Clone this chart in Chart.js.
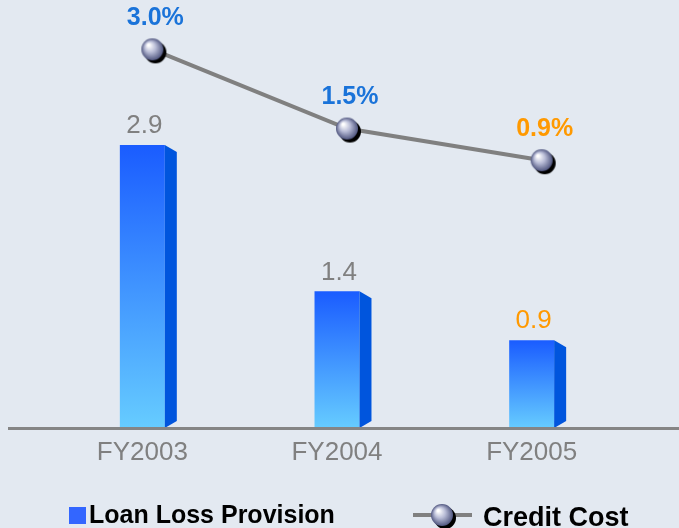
<!DOCTYPE html>
<html>
<head>
<meta charset="utf-8">
<script src="https://cdn.jsdelivr.net/npm/chart.js@4/dist/chart.umd.min.js"></script>
<style>
  html, body { margin: 0; padding: 0; background: #e3e9f1; }
  canvas { display: block; }
</style>
</head>
<body>
<canvas id="chart" width="679" height="528"></canvas>
<script>
// Chart data
const years = ['FY2003', 'FY2004', 'FY2005'];
const loanLossProvision = [2.9, 1.4, 0.9];
const creditCost = [3.0, 1.5, 0.9];
const creditCostLabels = ['3.0%', '1.5%', '0.9%'];

// label colours (last year highlighted in orange)
const barLabelColors = ['#808080', '#808080', '#ff9900'];
const lineLabelColors = ['#1a73d9', '#1a73d9', '#ff9900'];

const FONT = '"Liberation Sans", Arial, sans-serif';
const LINE_SHIFT = 10;   // line sits a little right of the bar centres
const SIDE = 12;         // depth of the 3d side face

// shaded ball used as point marker
function makeSphere(r) {
  const c = document.createElement('canvas');
  const s = (r + 5) * 2;
  c.width = s; c.height = s;
  const g = c.getContext('2d');
  const cx = s / 2, cy = s / 2;
  g.fillStyle = '#000';
  g.beginPath(); g.arc(cx + 3, cy + 3, r, 0, Math.PI * 2); g.fill();
  const grad = g.createRadialGradient(cx - r * 0.35, cy - r * 0.4, 1, cx, cy, r);
  grad.addColorStop(0, '#ffffff');
  grad.addColorStop(0.45, '#b8bcd6');
  grad.addColorStop(1, '#50567f');
  g.fillStyle = grad;
  g.beginPath(); g.arc(cx, cy, r, 0, Math.PI * 2); g.fill();
  return c;
}
const sphere = makeSphere(11);

function barGradient(context) {
  const chart = context.chart;
  const v = context.raw;
  if (!chart.chartArea || v === undefined) return '#3a7cff';
  const y = chart.scales.y;
  const top = y.getPixelForValue(v), base = y.getPixelForValue(0);
  const g = chart.ctx.createLinearGradient(0, top, 0, base);
  g.addColorStop(0, '#1a5cff');
  g.addColorStop(1, '#66ccff');
  return g;
}

const extras = {
  id: 'extras',
  beforeDatasetDraw(chart, args) {
    if (args.index === 1) {
      chart.ctx.save();
      chart.ctx.translate(LINE_SHIFT, 0);
    }
  },
  afterDatasetDraw(chart, args) {
    if (args.index === 1) chart.ctx.restore();
  },
  afterDatasetsDraw(chart) {
    const ctx = chart.ctx;
    const bars = chart.getDatasetMeta(0).data;
    const pts = chart.getDatasetMeta(1).data;
    ctx.save();
    // side faces
    bars.forEach(b => {
      const r = b.x + b.width / 2;
      ctx.fillStyle = '#0055dd';
      ctx.beginPath();
      ctx.moveTo(r, b.y);
      ctx.lineTo(r + SIDE, b.y + 7);
      ctx.lineTo(r + SIDE, b.base - 7);
      ctx.lineTo(r, b.base);
      ctx.closePath();
      ctx.fill();
    });
    // axis line
    const ay = chart.scales.y.getPixelForValue(0);
    ctx.strokeStyle = '#858585';
    ctx.lineWidth = 3;
    ctx.beginPath();
    ctx.moveTo(8, ay + 0.5);
    ctx.lineTo(chart.width, ay + 0.5);
    ctx.stroke();
    // value labels
    ctx.textAlign = 'center';
    ctx.textBaseline = 'middle';
    ctx.font = '26px ' + FONT;
    bars.forEach((b, i) => {
      ctx.fillStyle = barLabelColors[i];
      ctx.fillText(loanLossProvision[i].toFixed(1), b.x + 2, b.y - 19);
    });
    ctx.font = 'bold 25px ' + FONT;
    pts.forEach((p, i) => {
      ctx.fillStyle = lineLabelColors[i];
      ctx.fillText(creditCostLabels[i], p.x + LINE_SHIFT + 3, p.y - 31);
    });
    ctx.restore();
  },
  afterDraw(chart) {
    const ctx = chart.ctx;
    const ds = chart.data.datasets;
    ctx.save();
    ctx.fillStyle = '#3366ff';
    ctx.fillRect(69, 507, 17, 17);
    ctx.fillStyle = '#000';
    ctx.font = 'bold 25px ' + FONT;
    ctx.textAlign = 'left';
    ctx.textBaseline = 'alphabetic';
    ctx.fillText(ds[0].label, 89, 523);
    ctx.strokeStyle = '#808080';
    ctx.lineWidth = 4;
    ctx.beginPath();
    ctx.moveTo(413, 515);
    ctx.lineTo(472, 515);
    ctx.stroke();
    ctx.drawImage(sphere, 442 - sphere.width / 2, 515 - sphere.height / 2);
    ctx.font = 'bold 27px ' + FONT;
    ctx.fillText(ds[1].label, 483, 526);
    ctx.restore();
  }
};

new Chart(document.getElementById('chart').getContext('2d'), {
  data: {
    labels: years,
    datasets: [{
      type: 'bar',
      label: 'Loan Loss Provision',
      data: loanLossProvision,
      yAxisID: 'y',
      backgroundColor: barGradient,
      borderWidth: 0,
      barPercentage: 0.231,
      categoryPercentage: 1,
      order: 1
    }, {
      type: 'line',
      label: 'Credit Cost',
      data: creditCost,
      yAxisID: 'y2',
      borderColor: '#808080',
      borderWidth: 4,
      pointStyle: sphere,
      pointRadius: 11,
      tension: 0,
      order: 0
    }]
  },
  options: {
    responsive: false,
    animation: false,
    events: [],
    layout: { padding: { left: 45, right: 50, top: 20, bottom: 0 } },
    plugins: { legend: { display: false }, tooltip: { enabled: false } },
    scales: {
      x: {
        grid: { display: false, drawTicks: false },
        border: { display: false },
        ticks: { color: '#808080', font: { size: 26, family: FONT }, padding: 9 },
        afterFit(s) { s.height = 100; }
      },
      y: { display: false, min: 0, max: 4.18 },
      y2: { display: false, min: -4.17, max: 3.555 }
    }
  },
  plugins: [extras]
});
</script>
</body>
</html>
